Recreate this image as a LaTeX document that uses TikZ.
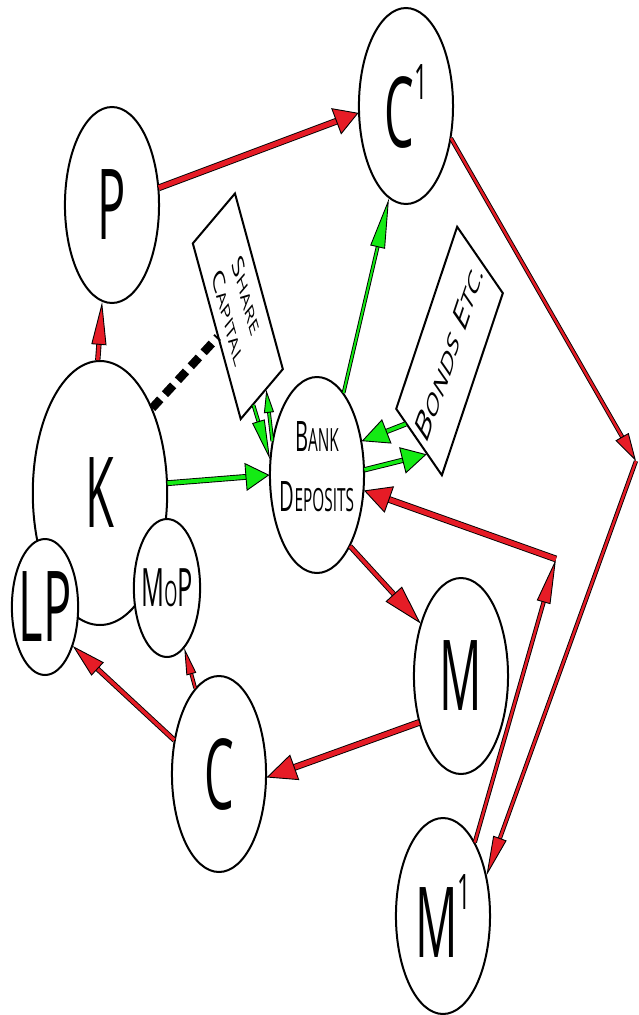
\documentclass[tikz,border=0pt]{standalone}
\usepackage{fontspec}
\setmainfont{Open Sans}
\usetikzlibrary{shapes.geometric,arrows.meta,calc}
\definecolor{myred}{RGB}{230,28,38}
\definecolor{mygreen}{RGB}{20,235,20}
\newcommand\mysc[4]{{\fontsize{#3}{#3}\selectfont #1}{\fontsize{#4}{#4}\selectfont #2}}
\begin{document}
\begin{tikzpicture}[xscale=0.48, x=1pt, y=-1pt,
  every node/.append style={transform shape},
  ell/.style={draw, ellipse, fill=white, line width=2pt, inner sep=0pt,
    minimum width=196pt, minimum height=196pt, font=\fontsize{98}{98}\selectfont},
  rectn/.style={draw, rectangle, fill=white, line width=2pt, inner sep=0pt, align=center},
  conn/.style n args={4}{draw=#1, line width=#2,
    -{Triangle[length=#3,width=#4,fill=#1,color=black,line width=0.9pt]},
    preaction={draw=black, line width=#2+1.8pt, arrows=-, shorten >=#3-3pt}},
  dashln/.style={draw=black, line width=8.5pt, dash pattern=on 12pt off 7pt}
]
\useasboundingbox (0,0) rectangle (1331.25,1015);

% nodes
\node[ell] (P) at (233.3,205) {\makebox[0pt]{P}};
\node[ell] (C1) at (845.8,106) {\makebox[0pt]{C\raisebox{48pt}{\fontsize{49}{49}\selectfont 1}}};
\node[ell, minimum width=280pt, minimum height=264pt] (K) at (208.3,493) {\makebox[0pt]{K}};
\node[ell, minimum width=138pt, minimum height=136pt] (LP) at (93.75,607) {\makebox[0pt]{LP}};
\node[ell, minimum width=138pt, minimum height=138pt] (MoP) at (347.9,588)
  {\makebox[0pt]{\fontsize{53}{53}\selectfont M\fontsize{35}{35}\selectfont O\fontsize{53}{53}\selectfont P}};
\node[ell] (BD) at (660.4,475) {};
\node[align=center, inner sep=0pt, font=\fontsize{42}{60}\selectfont] (BDt) at ([yshift=8pt]BD.center)
  {\mysc{B}{ANK}{42}{32}\\\mysc{D}{EPOSITS}{42}{32}};
\node[ell] (M) at (960.4,676) {\makebox[0pt]{M}};
\node[ell] (C) at (456.25,774) {\makebox[0pt]{C}};
\node[ell] (M1) at (922.9,916) {\makebox[0pt]{M\raisebox{48pt}{\fontsize{49}{49}\selectfont 1}}};

\node[rectn, minimum width=202pt, minimum height=101pt, rotate=-60.4,
  font=\fontsize{34}{43}\selectfont] (SC) at (495.5,306.25)
  {\mysc{S}{HARE}{34}{26}\\\mysc{C}{APITAL}{34}{26}};
\node[rectn, minimum width=222pt, minimum height=116pt, rotate=55.1,
  font=\fontsize{44}{44}\selectfont] (BE) at (936.5,351)
  {\mysc{B}{ONDS}{44}{34} \mysc{E}{TC.}{44}{34}};

\coordinate (R1) at (1325,461);
\coordinate (R2) at (1158.3,559);

% dashed link
\draw[dashln] (K.38) -- ($(SC.south west)!0.53!(SC.south east)$);

% red connectors
\draw[conn={myred}{3.5pt}{43pt}{15pt}] (K.92) -- (P.-102);
\draw[conn={myred}{5pt}{24pt}{28pt}] (P.10) -- (C1.184);
\draw[conn={myred}{2.5pt}{28pt}{15pt}] (C1.-19) -- (R1);
\draw[conn={myred}{2.5pt}{40pt}{14pt}] (R1) -- (M1.24);
\draw[conn={myred}{2.5pt}{45pt}{14pt}] (M1.48) -- (R2);
\draw[conn={myred}{5pt}{27pt}{28pt}] (R2) -- (BD.-9);
\draw[conn={myred}{3.5pt}{40pt}{22pt}] (BD.-46) -- (M.148);
\draw[conn={myred}{5pt}{30pt}{27pt}] (M.208) -- (C.-2);
\draw[conn={myred}{3.5pt}{34pt}{18pt}] (C.160) -- (LP.-34);
\draw[conn={myred}{2pt}{27pt}{10pt}] (C.120) -- (MoP.-59);

% green connectors
\draw[conn={mygreen}{4pt}{24pt}{28pt}] (K.4) -- (BD.180);
\draw[conn={mygreen}{2pt}{40pt}{13pt}] ($(SC.south east)!0.3!(SC.north east)$) -- (BD.171);
\draw[conn={mygreen}{2pt}{23pt}{10pt}] (BD.160) -- ($(SC.south east)!0.6!(SC.north east)$);
\draw[conn={mygreen}{2pt}{50pt}{15pt}] (BD.56) -- (C1.249);
\draw[conn={mygreen}{3.5pt}{27pt}{26pt}] ($(BE.north west)!0.22!(BE.south west)$) -- (BD.20);
\draw[conn={mygreen}{3.5pt}{25pt}{27pt}] (BD.3) -- ($(BE.north west)!0.67!(BE.south west)$);
\end{tikzpicture}
\end{document}
